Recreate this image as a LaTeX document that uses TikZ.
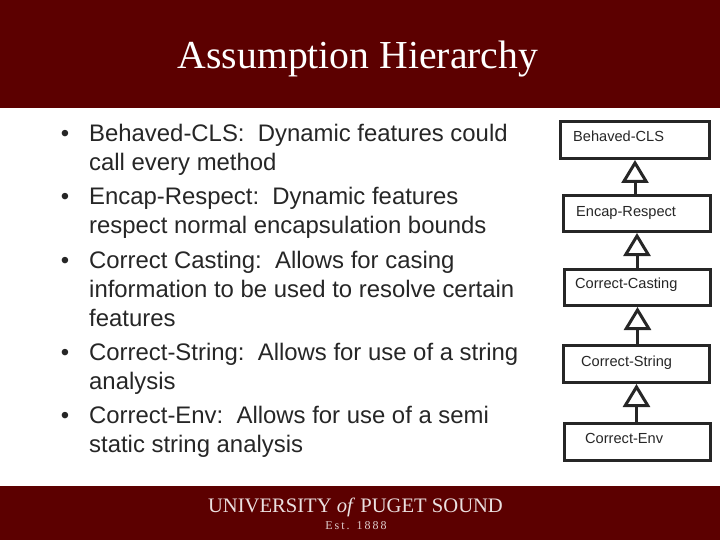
\documentclass[tikz,border=0pt]{standalone}
\usepackage{fontspec}
\setmainfont{Liberation Serif}
\setsansfont{Liberation Sans}
\usetikzlibrary{arrows.meta}
\definecolor{pugetred}{RGB}{92, 0, 0}
\definecolor{bodyink}{RGB}{38, 38, 38}
\newcommand{\bull}{\llap{\textbullet\hspace{20pt}}}
\tikzset{
	bulletitem/.style={anchor=north west, inner sep=0pt, align=left, text=bodyink,
		font=\sffamily\fontsize{23.9}{29}\selectfont},
	assumebox/.style={draw=black!85, line width=3pt, fill=white, inner sep=0pt},
	assumetext/.style={anchor=west, inner sep=0pt, text=bodyink, font=\sffamily\fontsize{14.6}{16}\selectfont},
	extends/.style={draw=black!85, line width=3pt, -{Triangle[open, length=23pt, width=27pt, line width=3pt]}}
}
\begin{document}
\begin{tikzpicture}[x=1pt, y=-1pt]
	\useasboundingbox (0,0) rectangle (720,540);
	
	% Bands
	\fill[pugetred] (0,0) rectangle (720,108);
	\fill[pugetred] (0,486) rectangle (720,540);
	
	% Title and footer
	\node[text=white, font=\fontsize{39.7}{44}\selectfont] (title) at (358,59) {Assumption Hierarchy};
	\node[text=white!88!pugetred, font=\fontsize{20.6}{22}\selectfont] (school) at (355.5,507) {UNIVERSITY \textit{of} PUGET SOUND};
	\node[text=white!80!pugetred, font=\fontsize{12}{14}\selectfont] (est) at (356,526) {E\,s\,t\,. \ 1\,8\,8\,8};
	
	% Bullet list
	\node[bulletitem] (cls) at (89,124) {\bull Behaved-CLS:\ \ Dynamic features could\\call every method};
	\node[bulletitem] (encap) at (89,187) {\bull Encap-Respect:\ \ Dynamic features\\respect normal encapsulation bounds};
	\node[bulletitem] (casting) at (89,251) {\bull Correct Casting:\ \ Allows for casing\\information to be used to resolve certain\\features};
	\node[bulletitem] (string) at (89,343) {\bull Correct-String:\ \ Allows for use of a string\\analysis};
	\node[bulletitem] (env) at (89,406) {\bull Correct-Env:\ \ Allows for use of a semi\\static string analysis};
	
	% Hierarchy boxes
	\node[assumebox, minimum width=149pt, minimum height=37pt] (boxcls) at (635,140) {};
	\node[assumebox, minimum width=147pt, minimum height=36pt] (boxencap) at (637,213.5) {};
	\node[assumebox, minimum width=146pt, minimum height=36pt] (boxcasting) at (637.5,287.5) {};
	\node[assumebox, minimum width=146pt, minimum height=37pt] (boxstring) at (636.5,364) {};
	\node[assumebox, minimum width=146pt, minimum height=37pt] (boxenv) at (637.5,442) {};
	
	\node[assumetext] (textcls) at (573,136.5) {Behaved-CLS};
	\node[assumetext] (textencap) at (576,213) {Encap-Respect};
	\node[assumetext] (textcasting) at (575,285) {Correct-Casting};
	\node[assumetext] (textstring) at (581,363) {Correct-String};
	\node[assumetext] (textenv) at (585,438) {Correct-Env};
	
	% Inheritance arrows
	\draw[extends] (boxencap.north -| boxcls) -- (boxcls.south);
	\draw[extends] (boxcasting.north -| boxencap) -- (boxencap.south);
	\draw[extends] (boxstring.north -| boxcasting) -- (boxcasting.south);
	\draw[extends] (boxenv.north -| boxstring) -- (boxstring.south);
\end{tikzpicture}
\end{document}
